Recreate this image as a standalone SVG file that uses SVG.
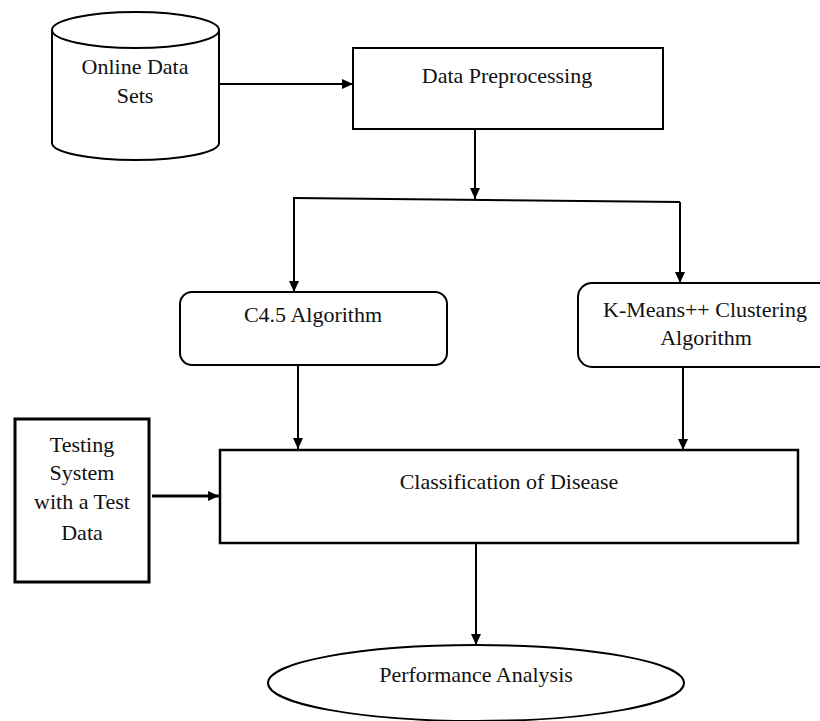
<svg xmlns="http://www.w3.org/2000/svg" width="820" height="721" viewBox="0 0 820 721" font-family="'Liberation Serif', 'Times New Roman', serif">
<defs>
<style>
.s{fill:#fff;stroke:#000;stroke-width:2}
.c{fill:none;stroke:#000;stroke-width:2}
.lbl{font-family:'Liberation Serif','Times New Roman',serif;font-size:22px;fill:#111;text-anchor:middle}
</style>
<marker id="ah" markerUnits="userSpaceOnUse" markerWidth="12" markerHeight="10" refX="11" refY="5" orient="auto">
<path d="M0,0 L11,5 L0,10 z" fill="#000"/>
</marker>
</defs>
<rect width="820" height="721" fill="#fff"/>
<g id="connectors">
<line class="c" x1="219" y1="84" x2="353" y2="84" marker-end="url(#ah)"/>
<line class="c" x1="475" y1="129" x2="475" y2="199" marker-end="url(#ah)"/>
<polyline class="c" points="293,198 680,202"/>
<line class="c" x1="294" y1="198" x2="294" y2="292" marker-end="url(#ah)"/>
<line class="c" x1="680" y1="202" x2="680" y2="283" marker-end="url(#ah)"/>
<line class="c" x1="298" y1="365" x2="298" y2="449" marker-end="url(#ah)"/>
<line class="c" x1="683" y1="367" x2="683" y2="450" marker-end="url(#ah)"/>
<line class="c" style="stroke-width:3" x1="152" y1="496" x2="219" y2="496" marker-end="url(#ah)"/>
<line class="c" x1="476" y1="543" x2="476" y2="645" marker-end="url(#ah)"/>
</g>
<g id="online-data-sets">
<path class="s" d="M52,30 L52,143 A83.5,17 0 0 0 219,143 L219,30"/>
<ellipse class="s" cx="135.5" cy="30" rx="83.5" ry="18"/>
<text class="lbl" x="135" y="74">Online Data</text>
<text class="lbl" x="135" y="103">Sets</text>
</g>
<g id="data-preprocessing">
<rect class="s" x="353" y="48" width="310" height="81"/>
<text class="lbl" x="507" y="83">Data Preprocessing</text>
</g>
<g id="c45">
<rect class="s" x="180" y="292" width="267" height="73" rx="12"/>
<text class="lbl" x="313" y="322">C4.5 Algorithm</text>
</g>
<g id="kmeans">
<rect class="s" x="578" y="283" width="260" height="84" rx="14"/>
<text class="lbl" x="705" y="317">K-Means++ Clustering</text>
<text class="lbl" x="706" y="345">Algorithm</text>
</g>
<g id="testing">
<rect class="s" style="stroke-width:3" x="15" y="419" width="134" height="163"/>
<text class="lbl" x="82" y="452">Testing</text>
<text class="lbl" x="82" y="480">System</text>
<text class="lbl" x="82" y="509">with a Test</text>
<text class="lbl" x="82" y="540">Data</text>
</g>
<g id="classification">
<rect class="s" style="stroke-width:2.5" x="220" y="450" width="578" height="93"/>
<text class="lbl" x="509" y="489">Classification of Disease</text>
</g>
<g id="performance">
<ellipse class="s" cx="476" cy="683" rx="208" ry="38"/>
<text class="lbl" x="476" y="682">Performance Analysis</text>
</g>
</svg>
